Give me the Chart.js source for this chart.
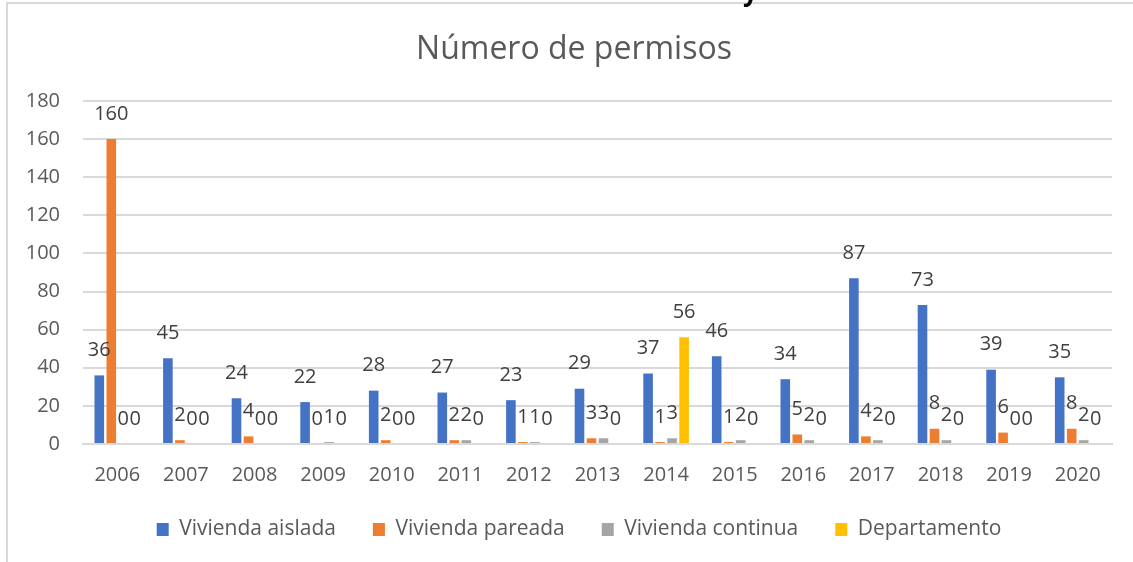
<!DOCTYPE html>
<html lang="es">
<head>
<meta charset="utf-8">
<title>Número de permisos</title>
<script src="https://cdn.jsdelivr.net/npm/chart.js@4/dist/chart.umd.min.js"></script>
<style>
    html, body { margin: 0; padding: 0; background: #fff; overflow: hidden; }
    #wrap { position: relative; width: 1133px; height: 562px; }
    #permisosChart { position: absolute; left: 0; top: 0; }
    #frame {
        position: absolute; left: 6px; top: 2px; width: 1140px; height: 600px;
        border: 2px solid #d9d9d9; box-sizing: border-box; pointer-events: none;
    }
    #docText {
        position: absolute; left: 743px; top: -24px; font: bold 26px "Open Sans", sans-serif;
        color: #000; line-height: 30px;
    }
</style>
</head>
<body>
<div id="wrap">
    <canvas id="permisosChart" width="1133" height="562"></canvas>
    <div id="frame"></div>
    <div id="docText">y</div>
</div>
<script>
// --- DATOS --- //
const years = ['2006', '2007', '2008', '2009', '2010', '2011', '2012', '2013', '2014', '2015', '2016', '2017', '2018', '2019', '2020'];
const viviendaAislada = [36, 45, 24, 22, 28, 27, 23, 29, 37, 46, 34, 87, 73, 39, 35];
const viviendaPareada = [160, 2, 4, 0, 2, 2, 1, 3, 1, 1, 5, 4, 8, 6, 8];
const viviendaContinua = [0, 0, 0, 1, 0, 2, 1, 3, 3, 2, 2, 2, 2, 0, 2];
const departamento = [0, 0, 0, 0, 0, 0, 0, 0, 56, 0, 0, 0, 0, 0, 0];
const yTicks = [0, 20, 40, 60, 80, 100, 120, 140, 160, 180];

const FONT = '"Open Sans", "Liberation Sans", sans-serif';

// etiquetas de datos encima de cada barra (como en Excel)
const barLabels = {
    id: 'barLabels',
    afterDatasetsDraw(chart) {
        const ctx = chart.ctx;
        ctx.save();
        ctx.font = '20px ' + FONT;
        ctx.fillStyle = '#404040';
        ctx.textAlign = 'center';
        ctx.textBaseline = 'middle';
        chart.data.datasets.forEach((ds, i) => {
            chart.getDatasetMeta(i).data.forEach((bar, j) => {
                ctx.fillText(String(ds.data[j]), bar.x, bar.y - 25);
            });
        });
        ctx.restore();
    }
};

// centrar título y leyenda como en el original (un poco a la derecha)
const shiftBlocks = {
    id: 'shiftBlocks',
    afterLayout(chart) {
        if (chart.titleBlock) chart.titleBlock.left = 36;
        if (chart.legend) {
            chart.legend.left = 46;
            chart.legend.top -= 12;
        }
    }
};

new Chart(document.getElementById('permisosChart'), {
    type: 'bar',
    data: {
        labels: years,
        datasets: [
            { label: 'Vivienda aislada', data: viviendaAislada, backgroundColor: '#4472C4' },
            { label: 'Vivienda pareada', data: viviendaPareada, backgroundColor: '#ED7D31' },
            { label: 'Vivienda continua', data: viviendaContinua, backgroundColor: '#A5A5A5' },
            { label: 'Departamento', data: departamento, backgroundColor: '#FFC000' }
        ]
    },
    options: {
        responsive: false,
        animation: false,
        categoryPercentage: 0.70,
        barPercentage: 0.80,
        layout: { padding: { top: 0, left: 0, right: 21, bottom: 0 } },
        plugins: {
            title: {
                display: true,
                text: 'Número de permisos',
                color: '#595959',
                font: { family: FONT, size: 32, weight: 'normal', lineHeight: 1.2 },
                padding: { top: 31, bottom: 31.6 }
            },
            legend: {
                position: 'bottom',
                labels: {
                    color: '#595959',
                    font: { family: FONT, size: 21 },
                    boxWidth: 12,
                    boxHeight: 13,
                    padding: 37
                }
            },
            tooltip: { enabled: false }
        },
        scales: {
            x: {
                grid: { display: false, drawTicks: false },
                border: { color: '#d9d9d9', width: 2 },
                ticks: { color: '#595959', font: { family: FONT, size: 20 }, padding: 19, maxRotation: 0 },
                afterFit(scale) { scale.height = 50; }
            },
            y: {
                min: 0,
                max: 180,
                grid: { color: '#d9d9d9', lineWidth: 2, drawTicks: false },
                border: { display: false },
                afterBuildTicks(scale) { scale.ticks = yTicks.map(v => ({ value: v })); },
                ticks: { color: '#595959', font: { family: FONT, size: 20 }, padding: 23 },
                afterFit(scale) { scale.width = 83; }
            }
        }
    },
    plugins: [barLabels, shiftBlocks]
});
</script>
</body>
</html>
